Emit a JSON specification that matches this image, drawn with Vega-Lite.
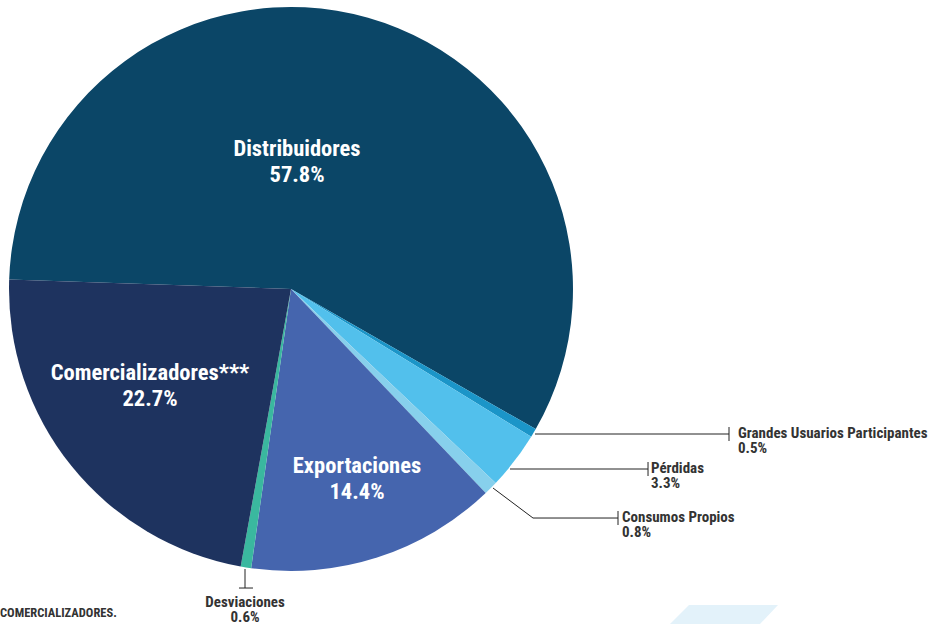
{
  "$schema": "https://vega.github.io/schema/vega-lite/v6.json",
  "width": 938,
  "height": 624,
  "autosize": {"type": "none"},
  "padding": 0,
  "background": "#ffffff",
  "config": {"view": {"stroke": null}},
  "datasets": {
    "slices": [
      {"cat": "Distribuidores", "pct": 57.8, "idx": 1},
      {"cat": "Grandes Usuarios Participantes", "pct": 0.5, "idx": 2},
      {"cat": "Pérdidas", "pct": 3.3, "idx": 3},
      {"cat": "Consumos Propios", "pct": 0.8, "idx": 4},
      {"cat": "Exportaciones", "pct": 14.4, "idx": 5},
      {"cat": "Desviaciones", "pct": 0.6, "idx": 6},
      {"cat": "Comercializadores***", "pct": 22.7, "idx": 7}
    ],
    "innerLabels": [
      {"name": "Distribuidores", "pct": 57.8, "u": 2.13, "v": 47.16},
      {"name": "Comercializadores***", "pct": 22.7, "u": -50.0, "v": -32.27},
      {"name": "Exportaciones", "pct": 14.4, "u": 23.4, "v": -65.25}
    ],
    "outerLabels": [
      {"name": "Grandes Usuarios Participantes", "pct": 0.5, "u": 158.51, "v": -52.84},
      {"name": "Pérdidas", "pct": 3.3, "u": 127.66, "v": -65.25},
      {"name": "Consumos Propios", "pct": 0.8, "u": 117.38, "v": -82.62}
    ],
    "centerLabels": [
      {"name": "Desviaciones", "pct": 0.6, "u": -16.31, "v": -112.77}
    ],
    "leaders": [
      {"u1": 86.52, "v1": -51.42, "u2": 155.32, "v2": -51.42},
      {"u1": 155.32, "v1": -48.94, "u2": 155.32, "v2": -53.9},
      {"u1": 77.66, "v1": -63.83, "u2": 126.6, "v2": -63.83},
      {"u1": 126.6, "v1": -61.35, "u2": 126.6, "v2": -66.31},
      {"u1": 71.63, "v1": -70.57, "u2": 85.82, "v2": -81.21},
      {"u1": 85.82, "v1": -81.21, "u2": 115.96, "v2": -81.21},
      {"u1": 115.96, "v1": -78.72, "u2": 115.96, "v2": -83.69},
      {"u1": -16.31, "v1": -99.29, "u2": -16.31, "v2": -106.03},
      {"u1": -18.44, "v1": -106.03, "u2": -13.48, "v2": -106.03}
    ],
    "notes": [
      {"note": "COMERCIALIZADORES.", "u": -103.19, "v": -116.31}
    ],
    "deco": [
      {"u": 134.4, "top": -118.79, "bottom": -118.79},
      {"u": 141.13, "top": -112.06, "bottom": -118.79},
      {"u": 166.31, "top": -112.06, "bottom": -118.79},
      {"u": 172.7, "top": -112.06, "bottom": -112.06}
    ]
  },
  "layer": [
    {
      "data": {"name": "deco"},
      "mark": {"type": "area", "color": "#e3f2fa", "opacity": 1},
      "encoding": {
        "x": {"field": "u", "type": "quantitative", "scale": {"domain": [-103.19, 229.43], "nice": false, "zero": false}, "axis": null},
        "y": {"field": "top", "type": "quantitative", "scale": {"domain": [-118.79, 102.48], "nice": false, "zero": false}, "axis": null},
        "y2": {"field": "bottom"}
      }
    },
    {
      "data": {"name": "slices"},
      "mark": {"type": "arc", "outerRadius": 282},
      "encoding": {
        "x": {"datum": 0, "type": "quantitative"},
        "y": {"datum": 0, "type": "quantitative"},
        "theta": {"field": "pct", "type": "quantitative", "stack": true, "scale": {"range": [-1.5373, 4.7459]}},
        "order": {"field": "idx", "type": "quantitative"},
        "color": {
          "field": "cat",
          "type": "nominal",
          "legend": null,
          "scale": {
            "domain": ["Distribuidores", "Grandes Usuarios Participantes", "Pérdidas", "Consumos Propios", "Exportaciones", "Desviaciones", "Comercializadores***"],
            "range": ["#0b4667", "#1b95c8", "#52c0ec", "#87d0ec", "#4565ae", "#3ab89f", "#1e335f"]
          }
        }
      }
    },
    {
      "data": {"name": "leaders"},
      "mark": {"type": "rule", "color": "#222222", "strokeWidth": 1},
      "encoding": {
        "x": {"field": "u1", "type": "quantitative"},
        "y": {"field": "v1", "type": "quantitative"},
        "x2": {"field": "u2"},
        "y2": {"field": "v2"}
      }
    },
    {
      "data": {"name": "innerLabels"},
      "transform": [{"calculate": "[datum.name, format(datum.pct, '.1f') + '%']", "as": "label"}],
      "mark": {"type": "text", "align": "center", "baseline": "alphabetic", "font": "Roboto Condensed, Roboto", "fontWeight": "bold", "fontSize": 22.5, "lineHeight": 26, "color": "#ffffff"},
      "encoding": {
        "x": {"field": "u", "type": "quantitative"},
        "y": {"field": "v", "type": "quantitative"},
        "text": {"field": "label"}
      }
    },
    {
      "data": {"name": "outerLabels"},
      "transform": [{"calculate": "[datum.name, format(datum.pct, '.1f') + '%']", "as": "label"}],
      "mark": {"type": "text", "align": "left", "baseline": "alphabetic", "font": "Roboto Condensed, Roboto", "fontWeight": "bold", "fontSize": 15, "lineHeight": 15, "color": "#333333"},
      "encoding": {
        "x": {"field": "u", "type": "quantitative"},
        "y": {"field": "v", "type": "quantitative"},
        "text": {"field": "label"}
      }
    },
    {
      "data": {"name": "centerLabels"},
      "transform": [{"calculate": "[datum.name, format(datum.pct, '.1f') + '%']", "as": "label"}],
      "mark": {"type": "text", "align": "center", "baseline": "alphabetic", "font": "Roboto Condensed, Roboto", "fontWeight": "bold", "fontSize": 15, "lineHeight": 15, "color": "#333333"},
      "encoding": {
        "x": {"field": "u", "type": "quantitative"},
        "y": {"field": "v", "type": "quantitative"},
        "text": {"field": "label"}
      }
    },
    {
      "data": {"name": "notes"},
      "mark": {"type": "text", "align": "left", "baseline": "alphabetic", "font": "Roboto Condensed, Roboto", "fontWeight": "bold", "fontSize": 12.5, "color": "#333333"},
      "encoding": {
        "x": {"field": "u", "type": "quantitative"},
        "y": {"field": "v", "type": "quantitative"},
        "text": {"field": "note"}
      }
    }
  ]
}
